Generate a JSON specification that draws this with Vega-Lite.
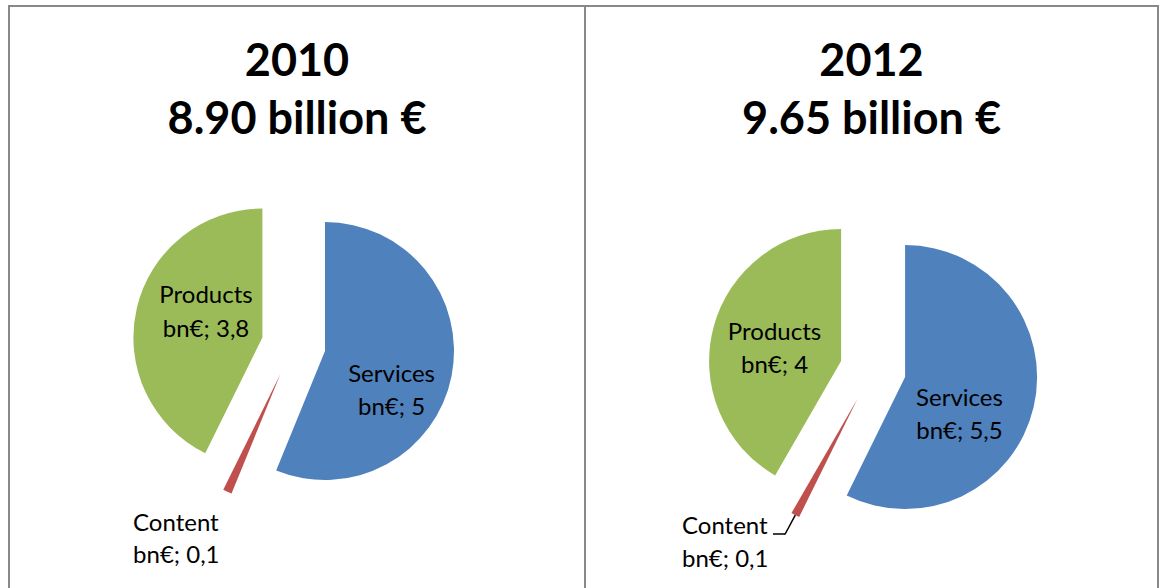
{
  "$schema": "https://vega.github.io/schema/vega-lite/v6.json",
  "padding": {"left": 8, "top": 5, "right": 0, "bottom": -2},
  "background": "white",
  "config": {
    "view": {"stroke": "#888888", "strokeWidth": 2},
    "font": "Lato",
    "title": {"font": "Lato", "fontSize": 45, "fontWeight": "bold", "color": "#000000", "lineHeight": 58, "anchor": "middle", "offset": -137}
  },
  "datasets": {
    "d2010": [
      {"category": "Services", "value": 5, "order": 1},
      {"category": "Content", "value": 0.1, "order": 2},
      {"category": "Products", "value": 3.8, "order": 3}
    ],
    "d2012": [
      {"category": "Services", "value": 5.5, "order": 1},
      {"category": "Content", "value": 0.1, "order": 2},
      {"category": "Products", "value": 4, "order": 3}
    ]
  },
  "spacing": 0,
  "bounds": "flush",
  "hconcat": [
    {
      "width": 576,
      "height": 583,
      "view": {"stroke": "#888888", "strokeWidth": 2},
      "title": {"text": ["2010", "8.90 billion €"]},
      "data": {"name": "d2010"},
      "transform": [
        {"window": [{"op": "sum", "field": "value", "as": "cum"}], "sort": [{"field": "order"}], "frame": [null, 0]},
        {"joinaggregate": [{"op": "sum", "field": "value", "as": "total"}]},
        {"calculate": "(datum.cum - datum.value) / datum.total", "as": "t0"},
        {"calculate": "datum.cum / datum.total", "as": "t1"},
        {"calculate": "(datum.cum - datum.value / 2) / datum.total", "as": "tm"},
        {"calculate": "datum.category + '\\n' + 'bn€; ' + replace(toString(datum.value), '.', ',')", "as": "label"}
      ],
      "layer": [
        {
          "transform": [{"filter": "datum.category === 'Services'"}],
          "mark": {"type": "arc", "radius": 129, "xOffset": 28, "yOffset": 53.5},
          "encoding": {
            "theta": {"field": "t0", "type": "quantitative", "scale": {"domain": [0, 1]}},
            "theta2": {"field": "t1"},
            "color": {"field": "category", "type": "nominal", "scale": {"domain": ["Services", "Content", "Products"], "range": ["#4F81BD", "#C0504D", "#9BBB59"]}, "legend": null}
          }
        },
        {
          "transform": [{"filter": "datum.category === 'Content'"}],
          "mark": {"type": "arc", "radius": 129, "xOffset": -16.6, "yOffset": 76.5},
          "encoding": {
            "theta": {"field": "t0", "type": "quantitative", "scale": {"domain": [0, 1]}},
            "theta2": {"field": "t1"},
            "color": {"field": "category", "type": "nominal", "legend": null}
          }
        },
        {
          "transform": [{"filter": "datum.category === 'Products'"}],
          "mark": {"type": "arc", "radius": 129, "xOffset": -34.6, "yOffset": 40},
          "encoding": {
            "theta": {"field": "t0", "type": "quantitative", "scale": {"domain": [0, 1]}},
            "theta2": {"field": "t1"},
            "color": {"field": "category", "type": "nominal", "legend": null}
          }
        },
        {
          "transform": [{"filter": "datum.category === 'Services'"}],
          "mark": {"type": "text", "radius": 72, "xOffset": 28, "yOffset": 53.5, "dx": -4.1, "dy": 10.3, "fontSize": 24, "lineHeight": 33, "lineBreak": "\n", "align": "center", "baseline": "middle", "color": "#000000"},
          "encoding": {
            "theta": {"field": "tm", "type": "quantitative", "stack": null, "scale": {"domain": [0, 1]}},
            "text": {"field": "label"}
          }
        },
        {
          "transform": [{"filter": "datum.category === 'Products'"}],
          "mark": {"type": "text", "radius": 62, "xOffset": -34.6, "yOffset": 40, "dx": 4, "dy": -27, "fontSize": 24, "lineHeight": 34, "lineBreak": "\n", "align": "center", "baseline": "middle", "color": "#000000"},
          "encoding": {
            "theta": {"field": "tm", "type": "quantitative", "stack": null, "scale": {"domain": [0, 1]}},
            "text": {"field": "label"}
          }
        },
        {
          "transform": [{"filter": "datum.category === 'Content'"}],
          "mark": {"type": "text", "radius": 150, "xOffset": -16.6, "yOffset": 76.5, "dx": -85.7, "dy": 13.3, "fontSize": 24, "lineHeight": 32, "lineBreak": "\n", "align": "left", "baseline": "middle", "color": "#000000"},
          "encoding": {
            "theta": {"field": "tm", "type": "quantitative", "stack": null, "scale": {"domain": [0, 1]}},
            "text": {"field": "label"}
          }
        }
      ]
    },
    {
      "width": 573,
      "height": 583,
      "view": {"stroke": "#888888", "strokeWidth": 2},
      "title": {"text": ["2012", "9.65 billion €"]},
      "data": {"name": "d2012"},
      "transform": [
        {"window": [{"op": "sum", "field": "value", "as": "cum"}], "sort": [{"field": "order"}], "frame": [null, 0]},
        {"joinaggregate": [{"op": "sum", "field": "value", "as": "total"}]},
        {"calculate": "(datum.cum - datum.value) / datum.total", "as": "t0"},
        {"calculate": "datum.cum / datum.total", "as": "t1"},
        {"calculate": "(datum.cum - datum.value / 2) / datum.total", "as": "tm"},
        {"calculate": "datum.category + '\\n' + 'bn€; ' + replace(toString(datum.value), '.', ',')", "as": "label"}
      ],
      "layer": [
        {
          "transform": [{"filter": "datum.category === 'Services'"}],
          "mark": {"type": "arc", "radius": 132, "xOffset": 33.6, "yOffset": 79.6},
          "encoding": {
            "theta": {"field": "t0", "type": "quantitative", "scale": {"domain": [0, 1]}},
            "theta2": {"field": "t1"},
            "color": {"field": "category", "type": "nominal", "scale": {"domain": ["Services", "Content", "Products"], "range": ["#4F81BD", "#C0504D", "#9BBB59"]}, "legend": null}
          }
        },
        {
          "transform": [{"filter": "datum.category === 'Content'"}],
          "mark": {"type": "arc", "radius": 132, "xOffset": -14, "yOffset": 101.2},
          "encoding": {
            "theta": {"field": "t0", "type": "quantitative", "scale": {"domain": [0, 1]}},
            "theta2": {"field": "t1"},
            "color": {"field": "category", "type": "nominal", "legend": null}
          }
        },
        {
          "transform": [{"filter": "datum.category === 'Products'"}],
          "mark": {"type": "arc", "radius": 132, "xOffset": -30.4, "yOffset": 63.6},
          "encoding": {
            "theta": {"field": "t0", "type": "quantitative", "scale": {"domain": [0, 1]}},
            "theta2": {"field": "t1"},
            "color": {"field": "category", "type": "nominal", "legend": null}
          }
        },
        {
          "transform": [{"filter": "datum.category === 'Content'"}],
          "mark": {"type": "arc", "radius": 154, "radius2": 132, "filled": false, "stroke": "#000000", "strokeWidth": 1.5, "xOffset": -14, "yOffset": 101.2},
          "encoding": {
            "theta": {"field": "tm", "type": "quantitative", "stack": null, "scale": {"domain": [0, 1]}},
            "theta2": {"field": "tm"}
          }
        },
        {
          "transform": [{"filter": "datum.category === 'Content'"}],
          "mark": {"type": "arc", "radius": 12, "radius2": 0, "theta": 4.7124, "theta2": 4.7124, "filled": false, "stroke": "#000000", "strokeWidth": 1.5, "xOffset": -86.5, "yOffset": 236.5},
          "encoding": {}
        },
        {
          "transform": [{"filter": "datum.category === 'Services'"}],
          "mark": {"type": "text", "radius": 62, "xOffset": 33.6, "yOffset": 79.6, "dx": -6, "dy": 7.8, "fontSize": 24, "lineHeight": 33, "lineBreak": "\n", "align": "center", "baseline": "middle", "color": "#000000"},
          "encoding": {
            "theta": {"field": "tm", "type": "quantitative", "stack": null, "scale": {"domain": [0, 1]}},
            "text": {"field": "label"}
          }
        },
        {
          "transform": [{"filter": "datum.category === 'Products'"}],
          "mark": {"type": "text", "radius": 62, "xOffset": -30.4, "yOffset": 63.6, "dx": -6.7, "dy": -11.6, "fontSize": 24, "lineHeight": 33, "lineBreak": "\n", "align": "center", "baseline": "middle", "color": "#000000"},
          "encoding": {
            "theta": {"field": "tm", "type": "quantitative", "stack": null, "scale": {"domain": [0, 1]}},
            "text": {"field": "label"}
          }
        },
        {
          "transform": [{"filter": "datum.category === 'Content'"}],
          "mark": {"type": "text", "radius": 150, "xOffset": -14, "yOffset": 101.2, "dx": -104.8, "dy": -3.5, "fontSize": 24, "lineHeight": 33, "lineBreak": "\n", "align": "left", "baseline": "middle", "color": "#000000"},
          "encoding": {
            "theta": {"field": "tm", "type": "quantitative", "stack": null, "scale": {"domain": [0, 1]}},
            "text": {"field": "label"}
          }
        }
      ]
    }
  ]
}
